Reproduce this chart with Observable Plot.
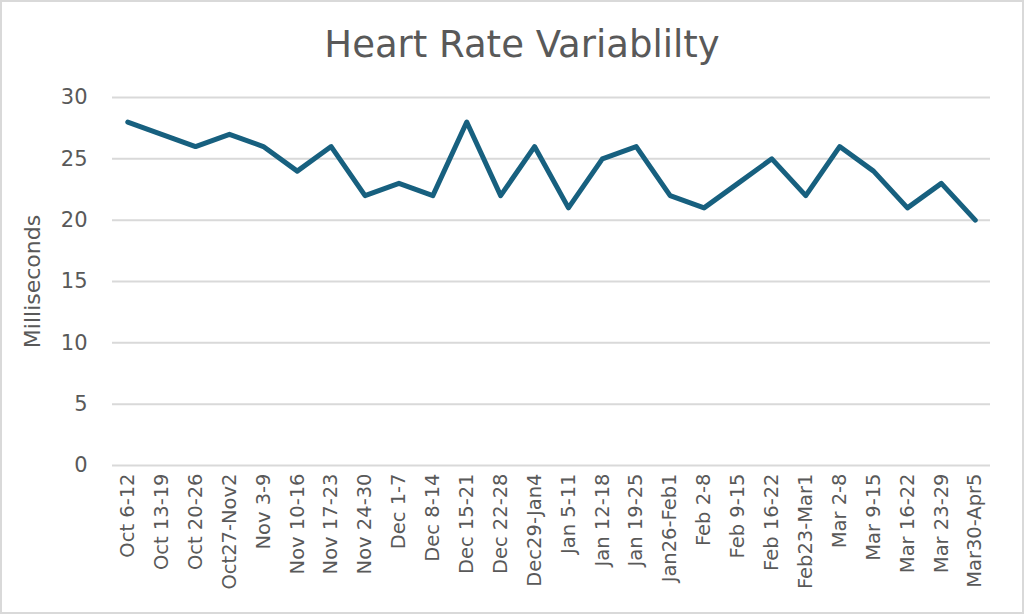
<!DOCTYPE html>
<html>
<head>
<meta charset="utf-8">
<script src="https://cdn.jsdelivr.net/npm/d3@7"></script>
<script src="https://cdn.jsdelivr.net/npm/@observablehq/plot@0.6"></script>
<style>
  html, body { margin: 0; padding: 0; background: #fff; }
  #frame {
    position: absolute; left: 0; top: 0; width: 1020px; height: 610px;
    border: 2px solid #d9d9d9; background: #fff;
    font-family: "DejaVu Sans", sans-serif;
  }
  #title {
    box-sizing: border-box; height: 78px; padding-top: 21px; padding-left: 20px;
    text-align: center; font-size: 37px; line-height: normal; color: #595959;
    white-space: nowrap;
  }
  svg { display: block; }
</style>
</head>
<body>
<div id="frame">
  <div id="title">Heart Rate Variablilty</div>
  <div id="chart"></div>
</div>
<script>
const weeks = ["Oct 6-12","Oct 13-19","Oct 20-26","Oct27-Nov2","Nov 3-9","Nov 10-16","Nov 17-23","Nov 24-30","Dec 1-7","Dec 8-14","Dec 15-21","Dec 22-28","Dec29-Jan4","Jan 5-11","Jan 12-18","Jan 19-25","Jan26-Feb1","Feb 2-8","Feb 9-15","Feb 16-22","Feb23-Mar1","Mar 2-8","Mar 9-15","Mar 16-22","Mar 23-29","Mar30-Apr5"];
const hrv = [28,27,26,27,26,24,26,22,23,22,28,22,26,21,25,26,22,21,23,25,22,26,24,21,23,20];
const yTicks = [0,5,10,15,20,25,30];

const data = weeks.map((w, i) => ({week: w, value: hrv[i]}));

const chart = Plot.plot({
  width: 1020,
  height: 532,
  marginTop: 17,
  marginBottom: 147,
  marginLeft: 110,
  marginRight: 32,
  style: {fontFamily: '"DejaVu Sans", sans-serif', color: "#595959", background: "#fff"},
  x: {type: "point", domain: weeks, padding: 0.45, round: false, label: null},
  y: {domain: [0, 30], ticks: yTicks, label: null},
  marks: [
    Plot.ruleY(yTicks, {stroke: "#d9d9d9", strokeWidth: 2}),
    Plot.axisY({ticks: yTicks, tickSize: 0, tickPadding: 25, fontSize: 21, fill: "#595959", label: "Milliseconds", labelAnchor: "center", labelOffset: 88, labelArrow: "none"}),
    Plot.axisX({tickSize: 0, tickPadding: 8, tickRotate: -90, fontSize: 19.5, fill: "#595959", label: null}),
    Plot.line(data, {x: "week", y: "value", stroke: "#17607f", strokeWidth: 5, strokeLinejoin: "round", strokeLinecap: "round"})
  ]
});
chart.querySelectorAll("g[aria-label='y-axis label']").forEach(n => n.setAttribute("font-size", "22"));
document.getElementById("chart").appendChild(chart);
</script>
</body>
</html>
